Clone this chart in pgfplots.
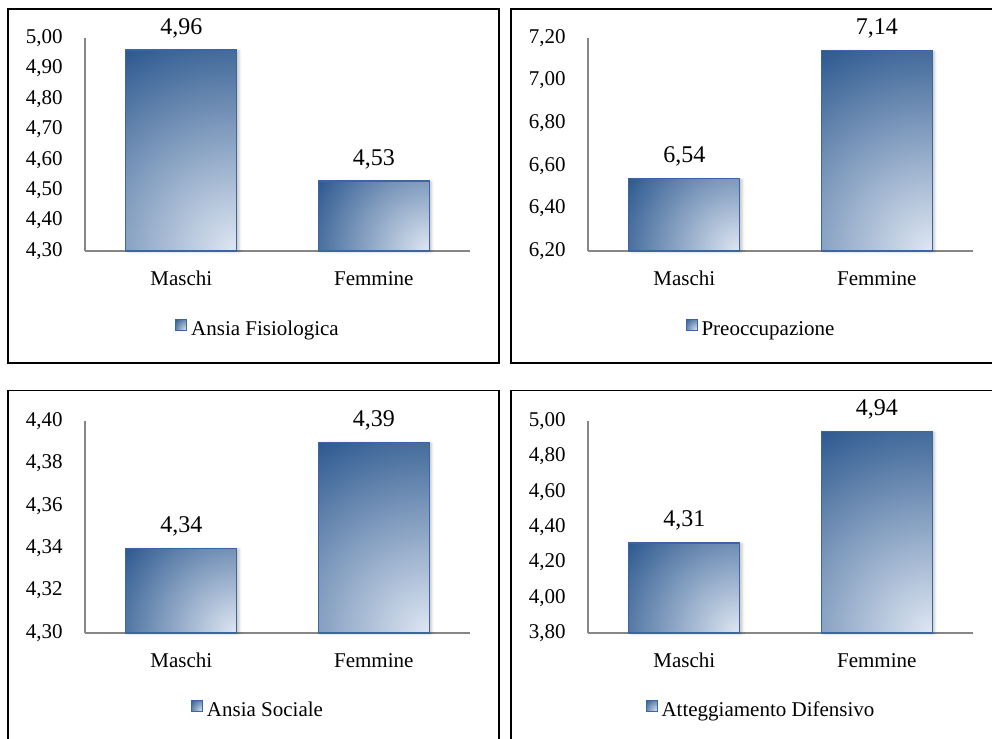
\documentclass[border=0pt]{standalone}
\usepackage{fontspec}
\setmainfont{Liberation Serif}
\usepackage{pgfplots}
\pgfplotsset{compat=1.18}
\usetikzlibrary{calc,shadows.blur}

\definecolor{bardark}{RGB}{45,89,143}
\definecolor{barlight}{RGB}{223,231,243}
\definecolor{barline}{RGB}{60,102,162}
\definecolor{axisgray}{RGB}{134,134,134}

% gradient running from the bottom-right corner (light) to the top-left corner (dark)
\tikzset{
  cornershade/.style={
    path picture={
      \path[inner color=barlight, outer color=bardark]
        let \p1=(path picture bounding box.north west),
            \p2=(path picture bounding box.south east),
            \n1={veclen(\x2-\x1,\y2-\y1)}
        in (\p2) circle (\n1);
    }
  },
}

\pgfplotsset{
  panel/.style={
    scale only axis, width=192.5pt, height=106.5pt,
    anchor=south west, clip=false,
    xmin=-0.5, xmax=1.5, xtick={0,1}, xticklabels={Maschi,Femmine},
    axis x line*=bottom, axis y line*=left,
    axis line style={axisgray, line width=0.8pt, -},
    major tick length=0pt,
    axis on top,
    tick label style={font=\fontsize{10.5}{12}\selectfont},
    yticklabel style={anchor=east, inner sep=0pt, xshift=-11pt},
    xticklabel style={anchor=base, inner sep=0pt, yshift=-17pt},
    /pgf/number format/.cd, use comma, fixed, fixed zerofill, precision=2,
      assume math mode=true, /pgfplots/.cd,
    legend style={draw=none, fill=none, anchor=center,
      font=\fontsize{10.5}{12}\selectfont},
    legend image code/.code={
      \draw[barline, line width=0.5pt, cornershade] (0pt,0pt) rectangle (5.5pt,5.5pt);
    },
  },
  % one bar per data point: top edge at the value, bottom edge on the axis
  bars/.style={
    draw=none, point meta=y,
    nodes near coords={},
    every node near coord/.style={
      anchor=north, inner sep=0pt, outer sep=0pt, shape=rectangle,
      minimum width=55.5pt,
      minimum height={\pgfplotspointmetatransformed*#1pt},
      blur shadow={shadow xshift=1.2pt, shadow yshift=-0.4pt,
        shadow blur radius=1.2pt, shadow opacity=22},
      draw=barline, line width=0.7pt, cornershade},
  },
  values/.style={
    draw=none, forget plot, point meta=y,
    nodes near coords,
    every node near coord/.style={font=\fontsize{12}{14}\selectfont,
      anchor=base, inner sep=0pt, yshift=8pt, text=black},
  },
}

\begin{document}
\begin{tikzpicture}
\useasboundingbox (0pt,0pt) rectangle (496pt,-369.5pt);

% Ansia Fisiologica
\begin{axis}[panel, at={(42.5pt,-125.5pt)},
  ymin=4.3, ymax=5.0, ytick={4.3,4.4,4.5,4.6,4.7,4.8,4.9,5.0},
  point meta min=4.3, point meta max=5.0,
  legend style={at={(0.452,-0.371)}}]
  \addplot[bars=0.1065] coordinates {(0,4.96) (1,4.53)};
  \addlegendentry{Ansia Fisiologica}
  \addplot[values] coordinates {(0,4.96) (1,4.53)};
\end{axis}

% Preoccupazione
\begin{axis}[panel, at={(294pt,-125.5pt)},
  ymin=6.2, ymax=7.2, ytick={6.2,6.4,6.6,6.8,7.0,7.2},
  point meta min=6.2, point meta max=7.2,
  legend style={at={(0.452,-0.371)}}]
  \addplot[bars=0.1065] coordinates {(0,6.54) (1,7.14)};
  \addlegendentry{Preoccupazione}
  \addplot[values] coordinates {(0,6.54) (1,7.14)};
\end{axis}

% Ansia Sociale
\begin{axis}[panel, at={(42.5pt,-316.5pt)}, height=106pt,
  ymin=4.30, ymax=4.40, ytick={4.30,4.32,4.34,4.36,4.38,4.40},
  point meta min=4.30, point meta max=4.40,
  legend style={at={(0.452,-0.368)}}]
  \addplot[bars=0.106] coordinates {(0,4.34) (1,4.39)};
  \addlegendentry{Ansia Sociale}
  \addplot[values] coordinates {(0,4.34) (1,4.39)};
\end{axis}

% Atteggiamento Difensivo
\begin{axis}[panel, at={(294pt,-316.5pt)}, height=106pt,
  ymin=3.8, ymax=5.0, ytick={3.8,4.0,4.2,4.4,4.6,4.8,5.0},
  point meta min=3.8, point meta max=5.0,
  legend style={at={(0.452,-0.368)}}]
  \addplot[bars=0.106] coordinates {(0,4.31) (1,4.94)};
  \addlegendentry{Atteggiamento Difensivo}
  \addplot[values] coordinates {(0,4.31) (1,4.94)};
\end{axis}

% panel frames
\draw[black, line width=0.75pt] (4pt,-4.5pt) rectangle (249.5pt,-181.5pt);
\draw[black, line width=0.75pt] (255.5pt,-4.5pt) rectangle (501.5pt,-181.5pt);
\draw[black, line width=0.75pt] (4pt,-195.3pt) rectangle (249.5pt,-375pt);
\draw[black, line width=0.75pt] (255.5pt,-195.3pt) rectangle (501.5pt,-375pt);
\end{tikzpicture}
\end{document}
